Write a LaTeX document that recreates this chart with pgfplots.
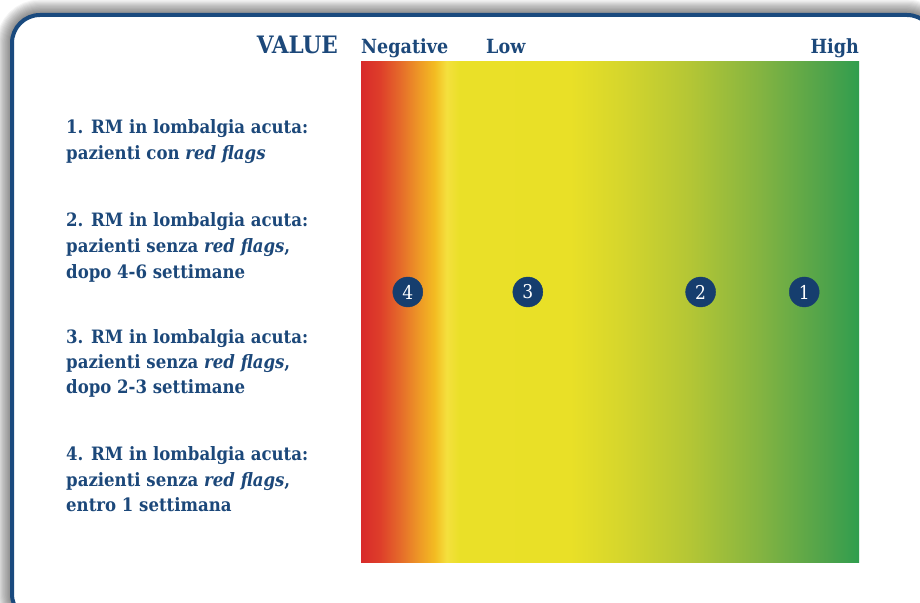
\documentclass[border=0pt]{standalone}
\usepackage{fontspec}
\setmainfont{DejaVu Serif Condensed}
\usepackage{pgfplots}
\pgfplotsset{compat=1.18}
\definecolor{txt}{RGB}{28,72,122}
\definecolor{circ}{RGB}{22,62,110}
\definecolor{frame}{RGB}{26,74,126}
\definecolor{g0}{RGB}{216,42,42}
\definecolor{g1}{RGB}{222,62,42}
\definecolor{g2}{RGB}{229,106,42}
\definecolor{g3}{RGB}{238,154,38}
\definecolor{g4}{RGB}{243,188,34}
\definecolor{g5}{RGB}{244,224,62}
\definecolor{g6}{RGB}{234,224,40}
\definecolor{g7}{RGB}{233,224,39}
\definecolor{g8}{RGB}{214,214,44}
\definecolor{g9}{RGB}{180,198,53}
\definecolor{g10}{RGB}{132,180,65}
\definecolor{g11}{RGB}{76,162,75}
\definecolor{g12}{RGB}{47,158,78}
\pgfdeclarehorizontalshading{valuegrad}{100bp}{%
color(0bp)=(g0); color(25bp)=(g0); color(26.9bp)=(g1); color(28.9bp)=(g2);
color(30.9bp)=(g3); color(32.4bp)=(g4); color(33.6bp)=(g5); color(34.9bp)=(g6);
color(46bp)=(g7); color(51bp)=(g8); color(58bp)=(g9); color(65bp)=(g10);
color(72bp)=(g11); color(75bp)=(g12); color(100bp)=(g12)}
\begin{document}
\begin{tikzpicture}[x=1pt,y=1pt]
\useasboundingbox (0,0) rectangle (920,602);
\begin{scope}
\clip (0,0) rectangle (920,602);
\foreach \i in {1,...,14} {
  \pgfmathsetmacro\lw{\i*2.2}
  \draw[black, opacity=0.045, line width=\lw pt, rounded corners=28pt] (12,587) rectangle (935,-20);
}
\fill[white, rounded corners=28pt] (12,587) rectangle (935,-20);
\draw[frame, line width=4pt, rounded corners=28pt] (12,587) rectangle (935,-20);
\end{scope}
\begin{axis}[at={(361pt,40pt)}, anchor=south west, scale only axis,
  width=498pt, height=500pt, xmin=0, xmax=100, ymin=0, ymax=100,
  axis lines=none, clip=false]
\fill[shading=valuegrad] (axis cs:0,0) rectangle (axis cs:100,100);
\addplot[only marks, mark=*, mark size=15pt, mark options={fill=circ, draw=circ},
  point meta=explicit symbolic, nodes near coords, nodes near coords align={center},
  every node near coord/.append style={anchor=center, text=white, inner sep=0pt,
  font=\fontsize{19}{19}\selectfont}]
  table[meta=label] {
x y label
9.4 54 4
33.5 54 3
68.2 54 2
89.0 54 1
};
\end{axis}
\begin{scope}[every node/.style={inner sep=0pt, text=txt}]
\node[anchor=base east, font=\fontsize{24}{24}\selectfont\bfseries] at (338,548) {VALUE};
\node[anchor=base west, font=\fontsize{19.5}{20}\selectfont\bfseries] at (361,548) {Negative};
\node[anchor=base west, font=\fontsize{19.5}{20}\selectfont\bfseries] at (486,548) {Low};
\node[anchor=base east, font=\fontsize{19.5}{20}\selectfont\bfseries] at (859,548) {High};
\begin{scope}[every node/.append style={anchor=base west, font=\fontsize{18.4}{20}\selectfont\bfseries}]
\node at (66,468) {1. RM in lombalgia acuta:};
\node at (66,442) {pazienti con \textit{red flags}};
\node at (66,375) {2. RM in lombalgia acuta:};
\node at (66,349) {pazienti senza \textit{red flags},};
\node at (66,323) {dopo 4-6 settimane};
\node at (66,258) {3. RM in lombalgia acuta:};
\node at (66,233) {pazienti senza \textit{red flags},};
\node at (66,208) {dopo 2-3 settimane};
\node at (66,141) {4. RM in lombalgia acuta:};
\node at (66,115) {pazienti senza \textit{red flags},};
\node at (66,90) {entro 1 settimana};
\end{scope}
\end{scope}
\end{tikzpicture}
\end{document}
